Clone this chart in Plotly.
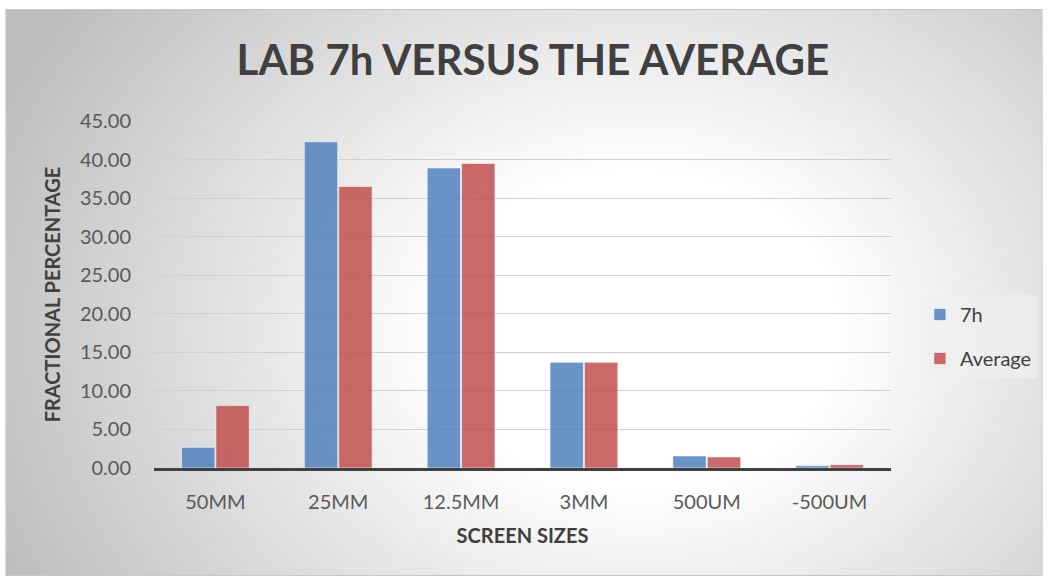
import base64
import plotly.graph_objects as go

categories = ["50MM", "25MM", "12.5MM", "3MM", "500UM", "-500UM"]
series_7h = [2.68, 42.3, 38.9, 13.7, 1.56, 0.30]
series_avg = [8.09, 36.5, 39.5, 13.7, 1.43, 0.43]
y_ticks = [0, 5, 10, 15, 20, 25, 30, 35, 40, 45]
y_tick_labels = [f"{v:.2f}" for v in y_ticks]

W, H = 1049, 579
L, R, T, B = 154, 156, 121, 111
pw, ph = W - L - R, H - T - B

svg = f'''<svg xmlns="http://www.w3.org/2000/svg" width="{W}" height="{H}" viewBox="0 0 {W} {H}">
<defs><radialGradient id="g" gradientUnits="userSpaceOnUse" cx="640" cy="330" r="700" gradientTransform="translate(640 330) scale(1 0.8) translate(-640 -330)">
<stop offset="0" stop-color="#ffffff"/><stop offset="0.28" stop-color="#ffffff"/><stop offset="1" stop-color="#bdbdbd"/></radialGradient></defs>
<rect x="0" y="0" width="{W}" height="{H}" fill="#ffffff"/>
<rect x="5.5" y="9.5" width="1039" height="566" fill="url(#g)" stroke="#c8c8c8" stroke-width="1"/>
</svg>'''
src = "data:image/svg+xml;base64," + base64.b64encode(svg.encode()).decode()

font = "Lato, 'Open Sans', sans-serif"

fig = go.Figure()
fig.add_trace(go.Bar(name="7h", x=categories, y=series_7h, legendgroup="a",
                     marker=dict(color="rgba(79,129,189,0.85)", line=dict(color="rgba(255,255,255,0.55)", width=1))))
fig.add_trace(go.Bar(name="Average", x=categories, y=series_avg, legendgroup="b",
                     marker=dict(color="rgba(192,80,77,0.85)", line=dict(color="rgba(255,255,255,0.55)", width=1))))

fig.update_layout(
    width=W, height=H,
    margin=dict(l=L, r=R, t=T, b=B),
    paper_bgcolor="rgba(0,0,0,0)", plot_bgcolor="rgba(0,0,0,0)",
    barmode="group", bargap=0.44, bargroupgap=0.03,
    font=dict(family=font, color="#595959", size=20),
    title=dict(text="<b>LAB 7h VERSUS THE AVERAGE</b>", x=0.508, xanchor="center",
               y=1 - 60 / H, yanchor="middle", font=dict(size=42, color="#404040", family=font)),
    images=[dict(source=src, xref="paper", yref="paper", x=-L / pw, y=1 + T / ph,
                 sizex=W / pw, sizey=H / ph, sizing="stretch", layer="below", xanchor="left", yanchor="top")],
    legend=dict(x=(922 - L) / pw, y=(468 - 295) / ph, xanchor="left", yanchor="top",
                bgcolor="rgba(240,240,240,0.7)", font=dict(size=20, color="#404040"),
                tracegroupgap=15, itemwidth=30),
    xaxis=dict(showgrid=False, showline=True, linecolor="#404040", linewidth=3,
               ticks="", ticklabelstandoff=14, tickfont=dict(size=20, color="#595959"),
               title=dict(text="<b>SCREEN SIZES</b>", font=dict(size=20, color="#404040"), standoff=17)),
    yaxis=dict(range=[0, 45], tickvals=y_ticks, ticktext=y_tick_labels, showgrid=True,
               gridcolor="#d0d0d0", gridwidth=1, zeroline=False, ticks="", ticklabelstandoff=22,
               tickfont=dict(size=20, color="#595959"),
               title=dict(text="<b>FRACTIONAL PERCENTAGE</b>", font=dict(size=20, color="#404040"), standoff=13)),
)

fig.write_html("out.html", config={"displayModeBar": False},
               post_script="document.body.style.margin='0';document.body.style.overflow='hidden';")
